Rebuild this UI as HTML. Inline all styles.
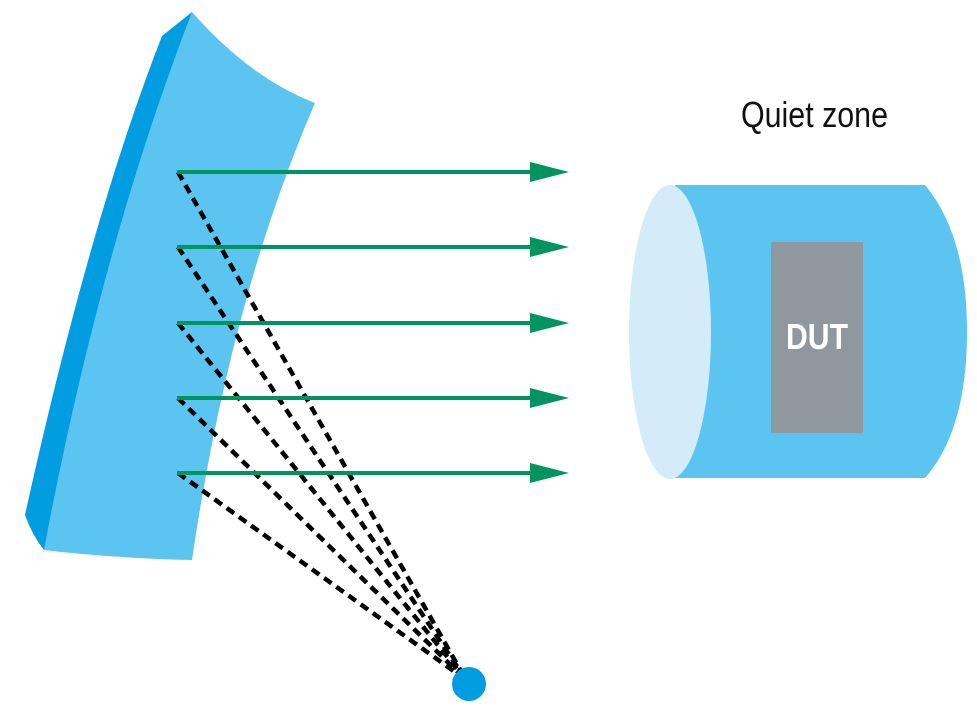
<!DOCTYPE html>
<html><head><meta charset="utf-8"><style>html,body{margin:0;padding:0;background:#fff}svg{display:block}</style></head>
<body>
<svg width="977" height="714" viewBox="0 0 977 714" xmlns="http://www.w3.org/2000/svg">
<path d="M192,12 L162,36 Q90,220 25,515 Q32,535 44,550 L60,540 Z" fill="#009ee0"/>
<path d="M192,12 Q250,78 315,103 Q230,300 192,560 Q110,558 44,550 Q100,250 192,12 Z" fill="#5bc4f1"/>
<path d="M675,185 L925,185 Q967,235 967,332 Q967,430 925,478 L675,478 Z" fill="#5bc4f1"/>
<ellipse cx="670" cy="332" rx="41" ry="147" fill="#d4ebf9"/>
<rect x="771" y="242" width="92" height="191" fill="#8f989e"/>
<text x="817" y="349" font-family="Liberation Sans, sans-serif" font-weight="bold" font-size="36" fill="#fff" text-anchor="middle" textLength="62" lengthAdjust="spacingAndGlyphs">DUT</text>
<text x="741" y="127" font-family="Liberation Sans, sans-serif" font-size="36" fill="#111" textLength="147" lengthAdjust="spacingAndGlyphs">Quiet zone</text>
<g stroke="#000" stroke-width="4.5" stroke-dasharray="9,6" fill="none">
<line x1="178" y1="172" x2="466" y2="680"/>
<line x1="178" y1="247" x2="466" y2="680"/>
<line x1="178" y1="323" x2="466" y2="680"/>
<line x1="178" y1="398" x2="466" y2="680"/>
<line x1="178" y1="473" x2="466" y2="680"/>
</g>
<g stroke="#009560" stroke-width="4">
<line x1="177" y1="172" x2="535" y2="172"/>
<line x1="177" y1="247" x2="535" y2="247"/>
<line x1="177" y1="323" x2="535" y2="323"/>
<line x1="177" y1="398" x2="535" y2="398"/>
<line x1="177" y1="473" x2="535" y2="473"/>
</g>
<g fill="#009560">
<path d="M530,162 L569,172 L530,182 Z"/>
<path d="M530,237 L569,247 L530,257 Z"/>
<path d="M530,313 L569,323 L530,333 Z"/>
<path d="M530,388 L569,398 L530,408 Z"/>
<path d="M530,463 L569,473 L530,483 Z"/>
</g>
<circle cx="469" cy="684" r="17" fill="#009ee0"/>
</svg>
</body></html>
